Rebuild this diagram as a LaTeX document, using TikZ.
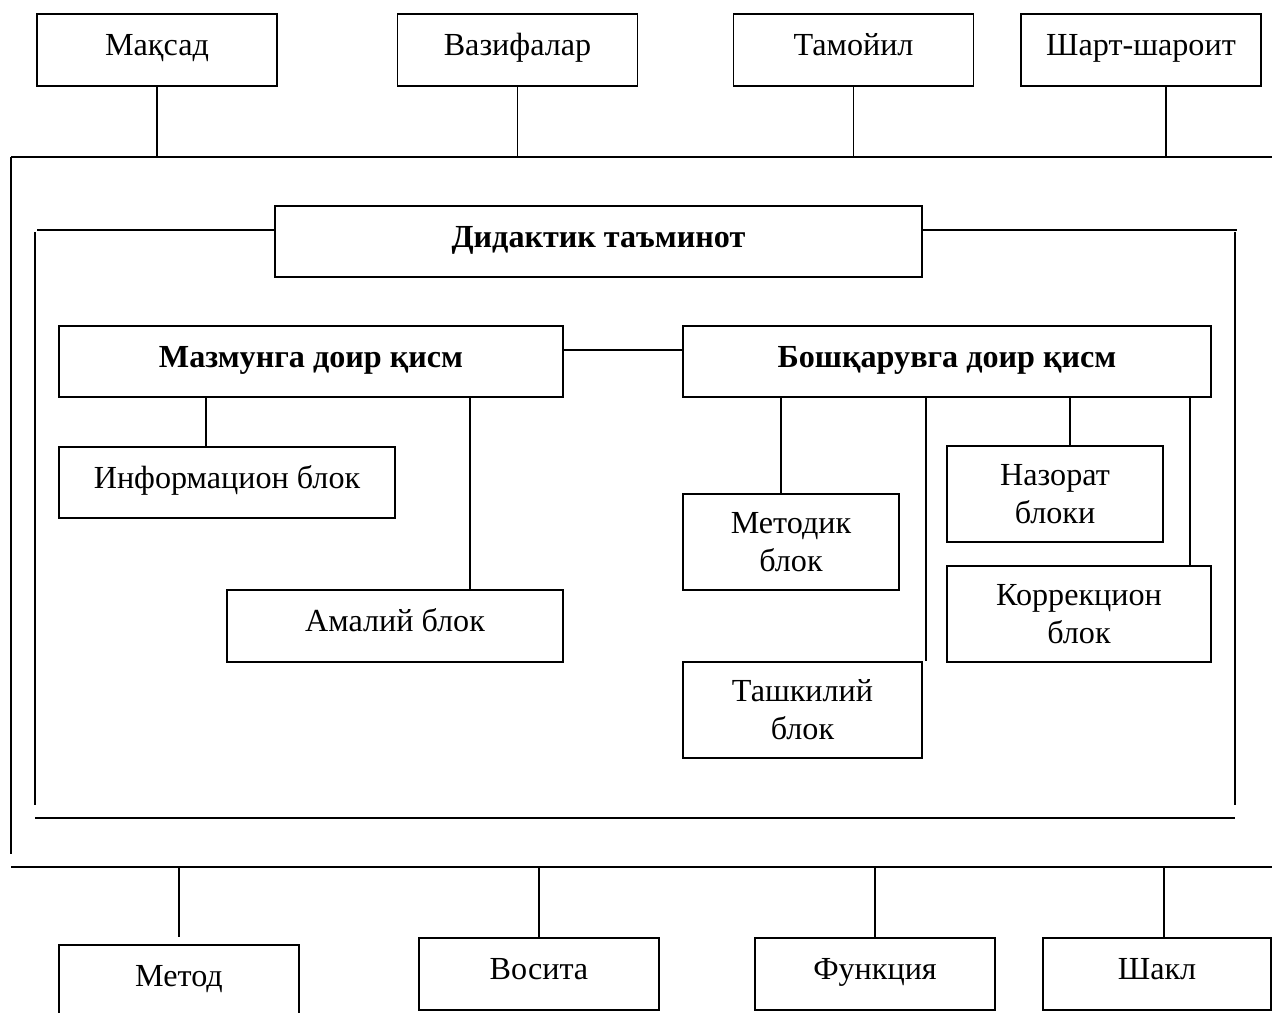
\documentclass[tikz,border=0pt]{standalone}
\usepackage{fontspec}
\setmainfont{Liberation Serif}
\usetikzlibrary{positioning}

\begin{document}
\begin{tikzpicture}[
  x=0.02cm, y=-0.02cm,
  line width=1.1pt,
  font=\fontsize{18.3}{21.6}\selectfont,
  box/.style={draw, align=center, inner sep=2pt},
  onerow/.style={box, minimum height=1.43cm, text height=12.3pt, text depth=5.5pt},
  tworow/.style={box, minimum height=1.92cm},
  outer/.style={onerow, minimum width=4.8cm, minimum height=1.44cm},
  head/.style={onerow, font=\fontsize{18.3}{21.6}\selectfont\bfseries},
]
  % page frame
  \clip (0,0) rectangle (1272,1012);

  % top row
  \node[outer] (maksad) at (157,50)   {Мақсад};
  \node[outer] (vazifa) at (517.5,50) {Вазифалар};
  \node[outer] (tamoyil) at (853.5,50) {Тамойил};
  \node[outer] (shart)  at (1141,50)  {Шарт-шароит};

  % outer frame
  \coordinate (otl) at (11,157);
  \coordinate (otr) at (1272,157);
  \coordinate (obl) at (11,867);
  \coordinate (obr) at (1272,867);
  \draw (otl) -- (otr);
  \draw (otl) -- (11,854);
  \draw (obl) -- (obr);
  \foreach \n in {maksad,vazifa,tamoyil}
    \draw (\n.south) -- (\n.south |- otl);
  \draw (shart.south -| 1166,0) -- (1166,157);

  % inner frame with the heading
  \node[head, minimum width=12.94cm] (didakt) at (598.5,241.5) {Дидактик таъминот};
  \draw (37,230) -- (didakt.west |- 0,230);
  \draw (didakt.east |- 0,230) -- (1237,230);
  \draw (35,232) -- (35,805);
  \draw (1235,232) -- (1235,805);
  \draw (35,818) -- (1235,818);

  % the two parts
  \node[head, minimum width=10.08cm] (mazmun) at (311,361.5) {Мазмунга доир қисм};
  \node[head, minimum width=10.56cm] (boshq)  at (947,361.5) {Бошқарувга доир қисм};
  \draw (mazmun.east |- 0,350) -- (boshq.west |- 0,350);

  % content blocks
  \node[onerow, minimum width=6.72cm] (info)   at (227,482.5) {Информацион блок};
  \node[onerow, minimum width=6.72cm] (amaliy) at (395,626)   {Амалий блок};
  \draw (mazmun.south -| 206,0) -- (info.north -| 206,0);
  \draw (mazmun.south -| 470,0) -- (amaliy.north -| 470,0);

  % control blocks
  \node[tworow, minimum width=4.32cm] (metodik) at (791,542)   {Методик\\блок};
  \node[tworow, minimum width=4.78cm] (tashkil) at (802.5,710) {Ташкилий\\блок};
  \node[tworow, minimum width=4.32cm] (nazorat) at (1055,494)  {Назорат\\блоки};
  \node[tworow, minimum width=5.28cm] (korrek)  at (1079,614)  {Коррекцион\\блок};
  \draw (boshq.south -| 781,0) -- (metodik.north -| 781,0);
  \draw (boshq.south -| 926,0) -- (tashkil.north -| 926,0);
  \draw (boshq.south -| 1070,0) -- (nazorat.north -| 1070,0);
  \draw (boshq.south -| 1190,0) -- (korrek.north -| 1190,0);

  % bottom row
  \node[outer] (metod)  at (179,981) {Метод};
  \node[outer] (vosita) at (539,974) {Восита};
  \node[outer] (funk)   at (875,974) {Функция};
  \node[outer, minimum width=4.56cm] (shakl) at (1157,974) {Шакл};
  \coordinate (metodtop) at (179,937);
  \draw (metodtop |- obl) -- (metodtop);
  \foreach \n in {vosita,funk}
    \draw (\n.north |- obl) -- (\n.north);
  \draw (shakl.north -| 1164,0) -- (1164,867);
\end{tikzpicture}
\end{document}
